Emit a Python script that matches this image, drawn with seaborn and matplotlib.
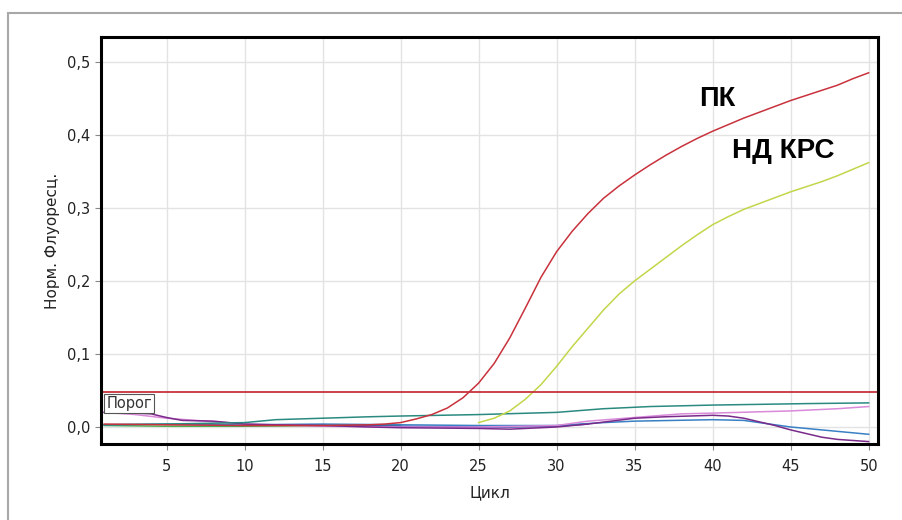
import numpy as np
import pandas as pd
import matplotlib
matplotlib.use("Agg")
import matplotlib.pyplot as plt
from matplotlib.patches import Rectangle
from matplotlib.ticker import FuncFormatter, MultipleLocator
import seaborn as sns

# Real-time PCR amplification curves (normalised fluorescence vs cycle)
pk_cycles = [1, 5, 10, 15, 18] + list(range(19, 51))
pk_values = [0.004, 0.003, 0.002, 0.002, 0.003,
             0.004, 0.006, 0.011, 0.017, 0.026, 0.040, 0.060, 0.087, 0.122, 0.163,
             0.205, 0.240, 0.268, 0.292, 0.313, 0.330, 0.345, 0.359, 0.372, 0.384,
             0.395, 0.405, 0.414, 0.423, 0.431, 0.439, 0.447, 0.454, 0.461, 0.468,
             0.477, 0.485]

nd_cycles = list(range(25, 51))
nd_values = [0.006, 0.012, 0.022, 0.038, 0.058, 0.083, 0.110, 0.135, 0.160, 0.182,
             0.200, 0.216, 0.232, 0.248, 0.263, 0.277, 0.288, 0.298, 0.306, 0.314,
             0.322, 0.329, 0.336, 0.344, 0.353, 0.362]

# negative / background samples
teal_cycles = [1, 5, 10, 12, 15, 18, 20, 25, 30, 33, 36, 40, 46, 50]
teal_values = [0.003, 0.004, 0.006, 0.010, 0.012, 0.014, 0.015, 0.017, 0.020, 0.025,
               0.028, 0.030, 0.032, 0.033]

pink_cycles = [1, 3, 5, 10, 15, 20, 25, 30, 32, 35, 38, 40, 45, 48, 50]
pink_values = [0.020, 0.017, 0.012, 0.004, 0.001, 0.000, 0.000, 0.002, 0.008, 0.013,
               0.018, 0.019, 0.022, 0.025, 0.028]

purple_cycles = [1, 3, 4, 5, 6, 8, 9, 10, 12, 15, 18, 20, 25, 27, 30, 32, 35, 37, 40,
                 41, 42, 43, 44, 45, 46, 47, 48, 50]
purple_values = [0.020, 0.019, 0.018, 0.013, 0.009, 0.008, 0.006, 0.004, 0.003, 0.002,
                 0.000, -0.001, -0.002, -0.003, 0.000, 0.004, 0.012, 0.014, 0.016,
                 0.015, 0.012, 0.007, 0.002, -0.004, -0.009, -0.014, -0.017, -0.020]

blue_cycles = [1, 5, 10, 15, 20, 25, 30, 33, 35, 40, 42, 43, 45, 47, 49, 50]
blue_values = [0.003, 0.004, 0.003, 0.004, 0.003, 0.002, 0.002, 0.006, 0.008, 0.010,
               0.009, 0.006, 0.000, -0.004, -0.008, -0.010]

navy_cycles = [14, 17, 20, 25, 27, 30, 32]
navy_values = [0.003, 0.002, 0.001, 0.000, 0.000, 0.001, 0.004]

green_cycles = [1, 5, 10, 15, 20]
green_values = [0.002, 0.001, 0.001, 0.002, 0.002]

threshold = 0.048

series = {
    "green": (green_cycles, green_values),
    "navy": (navy_cycles, navy_values),
    "blue": (blue_cycles, blue_values),
    "pink": (pink_cycles, pink_values),
    "purple": (purple_cycles, purple_values),
    "teal": (teal_cycles, teal_values),
    "НД КРС": (nd_cycles, nd_values),
    "ПК": (pk_cycles, pk_values),
}
palette = {
    "green": "#4caf50",
    "navy": "#3b3fa8",
    "blue": "#3a80c4",
    "pink": "#d98ad9",
    "purple": "#7a2a8a",
    "teal": "#2a8a80",
    "НД КРС": "#c3d64a",
    "ПК": "#c8323c",
}

frames = []
for name, (c, v) in series.items():
    frames.append(pd.DataFrame({"cycle": c, "fluor": v, "sample": name}))
df = pd.concat(frames, ignore_index=True)

plt.rcParams["font.family"] = ["DejaVu Sans"]

fig = plt.figure(figsize=(9.03, 5.2), dpi=100)
ax = fig.add_axes([101 / 903, 1 - 444 / 520, 777 / 903, 407 / 520])

ax.grid(True, color="#e3e3e3", lw=1)
ax.set_axisbelow(True)

sns.lineplot(data=df, x="cycle", y="fluor", hue="sample", palette=palette,
             hue_order=list(series.keys()), legend=False, lw=1.1, ax=ax,
             estimator=None, sort=True)

ax.axhline(threshold, color="#c8323c", lw=1.3)
ax.text(1.15, threshold - 0.0055, "Порог", fontsize=10.5, color="#333333",
        va="top", ha="left",
        bbox=dict(boxstyle="square,pad=0.14", fc="white", ec="#555555", lw=0.8))

ax.text(40.3, 0.449, "ПК", fontsize=19.5, fontweight="bold", ha="center", va="center",
        family="Liberation Sans")
ax.text(44.5, 0.378, "НД КРС", fontsize=20, fontweight="bold", ha="center", va="center",
        family="Liberation Sans")

ax.set_xlim(0.8, 50.6)
ax.set_ylim(-0.0233, 0.534)
ax.xaxis.set_major_locator(MultipleLocator(5))
ax.yaxis.set_major_locator(MultipleLocator(0.1))
ax.xaxis.set_major_formatter(FuncFormatter(lambda v, p: f"{v:.0f}"))
ax.yaxis.set_major_formatter(FuncFormatter(lambda v, p: f"{v:.1f}".replace(".", ",")))
ax.tick_params(length=4, color="#888888", labelsize=10.5, labelcolor="#222222", pad=4)
ax.tick_params(axis="x", pad=7)

for s in ax.spines.values():
    s.set_color("black")
    s.set_linewidth(2.2)

ax.set_xlabel("Цикл", fontsize=11, color="#222222", labelpad=8)
ax.set_ylabel("Норм. Флуоресц.", fontsize=11, color="#222222", labelpad=5)

fig.patches.append(Rectangle((8 / 903, -0.2), 1.5, 1.2 - 13 / 520,
                             transform=fig.transFigure, fill=False,
                             edgecolor="#a8a8a8", lw=1.5))

fig.savefig("out.png", dpi=100)
